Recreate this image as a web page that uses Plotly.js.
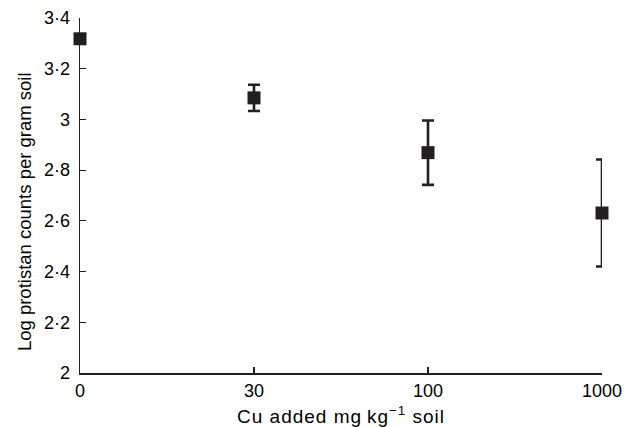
<!DOCTYPE html>
<html>
<head>
<meta charset="utf-8">
<script src="https://cdn.plot.ly/plotly-3.0.1.min.js"></script>
<style>html,body{margin:0;padding:0;background:#fff;}#chart{width:639px;height:427px;}
#chart .xtitle{letter-spacing:1px;}</style>
</head>
<body>
<div id="chart"></div>
<script>
const categories = ["0", "30", "100", "1000"];
const logCounts = [3.318, 3.085, 2.869, 2.631];
const errors = [0, 0.052, 0.127, 0.211];
const yTickVals = [2, 2.2, 2.4, 2.6, 2.8, 3, 3.2, 3.4];
const yTickText = ["2", "2·2", "2·4", "2·6", "2·8", "3", "3·2", "3·4"];
const xTitle = "Cu added mg\u2009kg<sup>\u22121</sup> soil";
const yTitle = "Log protistan counts per gram soil";

const ink = "#231f20";
const trace = {
  x: categories,
  y: logCounts,
  type: "scatter",
  mode: "markers",
  cliponaxis: false,
  marker: { symbol: "square", size: 13, color: ink },
  error_y: { type: "data", array: errors, visible: true, color: ink, thickness: 2.6, width: 6 }
};

const layout = {
  width: 639, height: 427,
  margin: { l: 80, r: 37, t: 18, b: 54 },
  paper_bgcolor: "#fff", plot_bgcolor: "#fff",
  showlegend: false,
  font: { family: "Liberation Sans, Arial, sans-serif", size: 18, color: "#000" },
  annotations: [{
    text: yTitle, textangle: -90, showarrow: false,
    xref: "paper", yref: "paper", x: -0.1073, y: 0.456,
    xanchor: "center", yanchor: "middle",
    font: { size: 18.5, color: "#000" }
  }],
  xaxis: {
    type: "category",
    categoryorder: "array",
    categoryarray: categories,
    range: [0, 3],
    showgrid: false, zeroline: false,
    showline: true, linecolor: ink, linewidth: 1.5,
    ticks: "inside", ticklen: 6, tickwidth: 1.2, tickcolor: ink,
    tickfont: { size: 18 },
    ticklabelstandoff: 1,
    title: { text: xTitle, font: { size: 19 }, standoff: 12 }
  },
  yaxis: {
    range: [2, 3.4],
    tickvals: yTickVals,
    ticktext: yTickText,
    showgrid: false, zeroline: false,
    showline: true, linecolor: ink, linewidth: 1.5,
    ticks: "inside", ticklen: 6, tickwidth: 1.2, tickcolor: ink,
    tickfont: { size: 18 },
    ticklabelstandoff: 5
  }
};

Plotly.newPlot("chart", [trace], layout, { displayModeBar: false, staticPlot: true });
</script>
</body>
</html>
